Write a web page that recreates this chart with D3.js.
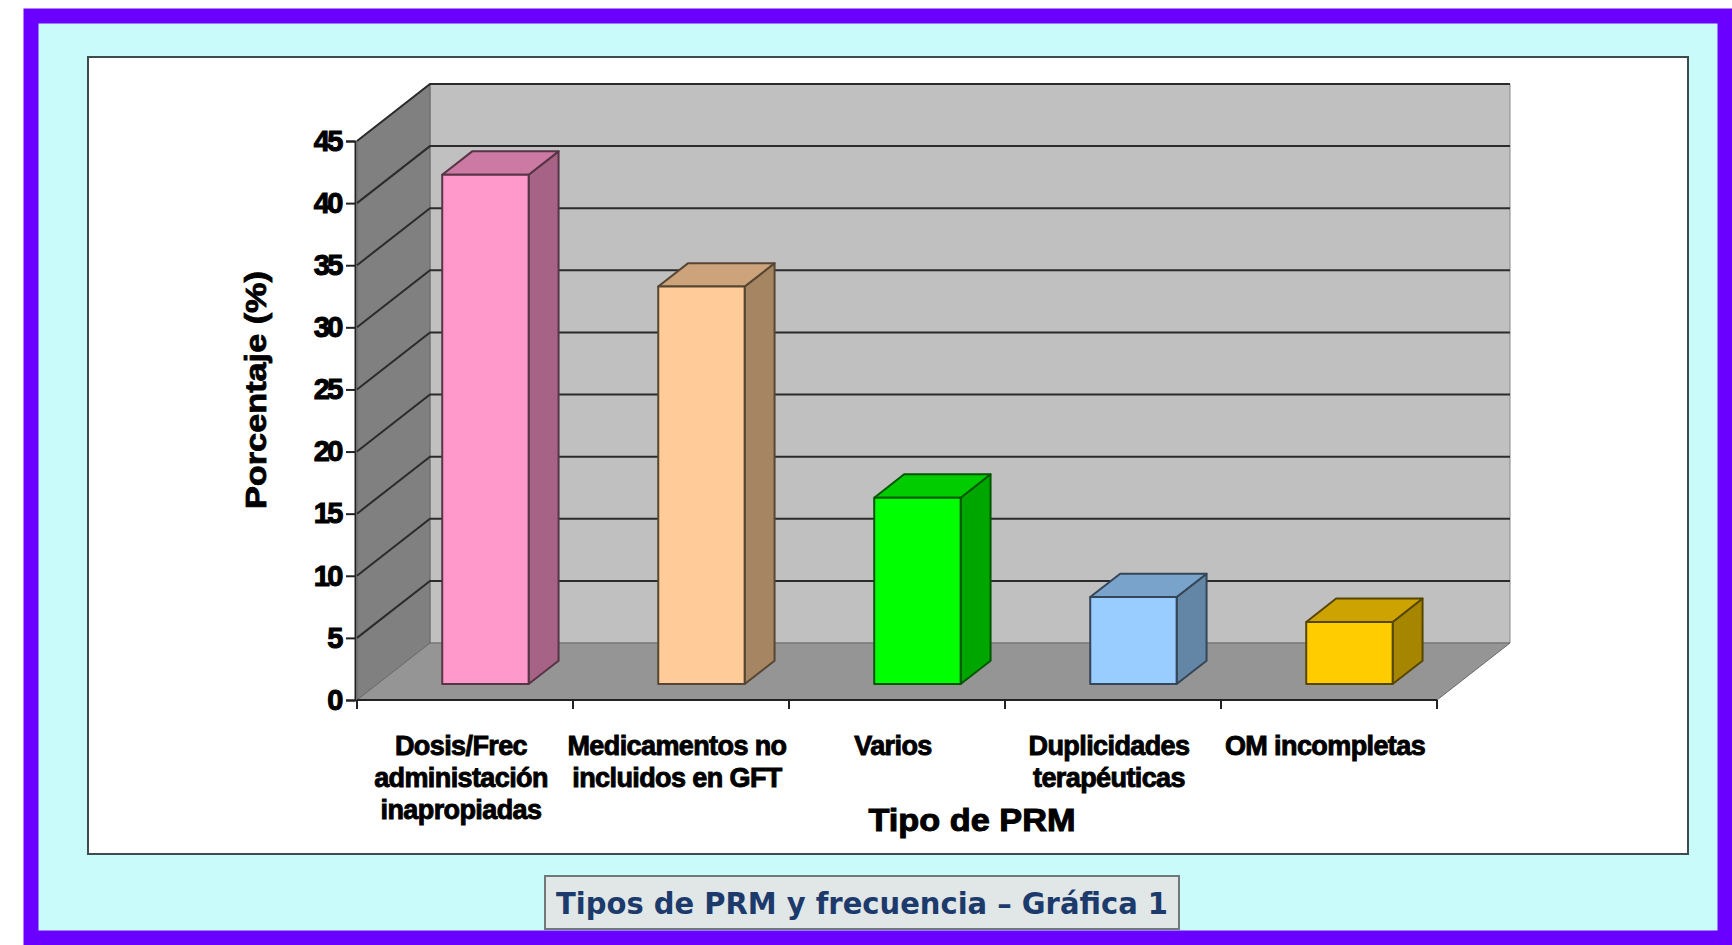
<!DOCTYPE html>
<html>
<head>
<meta charset="utf-8">
<script src="https://cdn.jsdelivr.net/npm/d3@7"></script>
<style>
  body { margin: 0; background: #fff; }
  svg { display: block; }
</style>
</head>
<body>
<div id="chart"></div>
<script>
// chart data
const categories = [
  "Dosis/Frec\nadministación\ninapropiadas",
  "Medicamentos no\nincluidos en GFT",
  "Varios",
  "Duplicidades\nterapéuticas",
  "OM incompletas"
]
const values = [41, 32, 15, 7, 5]
const barColors = ["#FF99CC", "#FFCC99", "#00FF00", "#99CCFF", "#FFCC00"]
const yTicks = [0, 5, 10, 15, 20, 25, 30, 35, 40, 45]
const yTitle = "Porcentaje (%)"
const xTitle = "Tipo de PRM"
const caption = "Tipos de PRM y frecuencia – Gráfica 1"

const width = 1732
const height = 945
const heavyFont = "Liberation Sans, Arial, sans-serif"

const svg = d3
  .select("#chart")
  .append("svg")
  .attr("width", width)
  .attr("height", height)

// frame: purple border, cyan panel, white chart box
svg.append("rect")
  .attr("x", 31).attr("y", 16)
  .attr("width", 1694).attr("height", 922)
  .attr("fill", "#C9FBFB")
  .attr("stroke", "#6A00FF")
  .attr("stroke-width", 15)

svg.append("rect")
  .attr("x", 88).attr("y", 57)
  .attr("width", 1600).attr("height", 797)
  .attr("fill", "#fff")
  .attr("stroke", "#3d4d4d")
  .attr("stroke-width", 2)

// 3d projection: depth d in [0,1] shifts right/up
const depthX = 73
const depthY = -57

const y = d3.scaleLinear().domain([0, 45]).range([700, 141])
const x = d3
  .scaleBand()
  .domain(d3.range(categories.length))
  .range([357, 1437])
  .paddingInner(0.6)
  .paddingOuter(0.3)

const x0 = x.range()[0]
const x1 = x.range()[1]
const P = (px, v, d) => [px + d * depthX, y(v) + d * depthY]
const poly = (pts) => pts.map((p) => p.join(",")).join(" ")

const g = svg.append("g")

// back wall
g.append("polygon")
  .attr("points", poly([P(x0, 0, 1), P(x1, 0, 1), P(x1, 45, 1), P(x0, 45, 1)]))
  .attr("fill", "#C0C0C0")
  .attr("stroke", "#888")

// left wall
g.append("polygon")
  .attr("points", poly([P(x0, 0, 0), P(x0, 0, 1), P(x0, 45, 1), P(x0, 45, 0)]))
  .attr("fill", "#808080")
  .attr("stroke", "#666")

// floor
g.append("polygon")
  .attr("points", poly([P(x0, 0, 0), P(x1, 0, 0), P(x1, 0, 1), P(x0, 0, 1)]))
  .attr("fill", "#959595")
  .attr("stroke", "#6a6a6a")

// gridlines on walls
yTicks.forEach((t) => {
  if (t === 0) return
  g.append("polyline")
    .attr("points", poly([P(x0, t, 0), P(x0, t, 1), P(x1, t, 1)]))
    .attr("fill", "none")
    .attr("stroke", "#2b2b2b")
    .attr("stroke-width", 2)
})

// bars as boxes
const d0 = 0.28
const d1 = 0.69
values.forEach((v, i) => {
  const l = x(i)
  const r = x(i) + x.bandwidth()
  const c = d3.color(barColors[i])
  const edge = d3.color(barColors[i]).darker(3).formatHex()
  const shade = (k) => d3.rgb(c.r * k, c.g * k, c.b * k).formatHex()
  const bar = g.append("g")
    .attr("stroke", edge)
    .attr("stroke-width", 2)
    .attr("stroke-linejoin", "round")
  // right side
  bar.append("polygon")
    .attr("points", poly([P(r, 0, d0), P(r, 0, d1), P(r, v, d1), P(r, v, d0)]))
    .attr("fill", shade(0.65))
  // top
  bar.append("polygon")
    .attr("points", poly([P(l, v, d0), P(r, v, d0), P(r, v, d1), P(l, v, d1)]))
    .attr("fill", shade(0.8))
  // front
  bar.append("polygon")
    .attr("points", poly([P(l, 0, d0), P(r, 0, d0), P(r, v, d0), P(l, v, d0)]))
    .attr("fill", barColors[i])
})

// y axis
const yAxis = d3.axisLeft(y).tickValues(yTicks).tickSize(9).tickPadding(5)
const yg = svg.append("g").attr("transform", `translate(${x0 - 2},0)`).call(yAxis)
yg.select(".domain").attr("stroke", "#222").attr("stroke-width", 2)
yg.selectAll(".tick line").attr("stroke", "#222").attr("stroke-width", 2)
yg.selectAll(".tick text")
  .attr("font-family", heavyFont)
  .attr("font-weight", "bold")
  .attr("font-size", 29)
  .attr("letter-spacing", -2.5)
  .attr("fill", "#000")
  .attr("stroke", "#000")
  .attr("stroke-width", 1)

// x axis line and category ticks
const step = x.step()
const xBounds = d3.range(categories.length + 1).map((k) => x0 + k * step)
svg.append("line")
  .attr("x1", x0).attr("x2", x1)
  .attr("y1", y(0)).attr("y2", y(0))
  .attr("stroke", "#222").attr("stroke-width", 2)
svg.selectAll("line.xtick")
  .data(xBounds)
  .join("line")
  .attr("class", "xtick")
  .attr("x1", (d) => d).attr("x2", (d) => d)
  .attr("y1", y(0)).attr("y2", y(0) + 9)
  .attr("stroke", "#222").attr("stroke-width", 2)

// category labels
const labels = svg.append("g")
  .attr("font-family", heavyFont)
  .attr("font-weight", "bold")
  .attr("font-size", 27)
  .attr("letter-spacing", -0.6)
  .attr("stroke", "#000")
  .attr("stroke-width", 0.9)
  .attr("text-anchor", "middle")
categories.forEach((name, i) => {
  const cx = x0 + (i + 0.5) * step - 4
  const t = labels.append("text").attr("x", cx).attr("y", 755)
  name.split("\n").forEach((line, k) => {
    t.append("tspan")
      .attr("x", cx)
      .attr("dy", k === 0 ? 0 : 32)
      .text(line)
  })
})

// axis titles
svg.append("text")
  .attr("x", 972).attr("y", 831)
  .attr("text-anchor", "middle")
  .attr("font-family", heavyFont)
  .attr("font-weight", "bold")
  .attr("font-size", 32)
  .attr("stroke", "#000")
  .attr("stroke-width", 1)
  .attr("textLength", 207)
  .attr("lengthAdjust", "spacingAndGlyphs")
  .text(xTitle)

svg.append("text")
  .attr("transform", "translate(266,390) rotate(-90)")
  .attr("text-anchor", "middle")
  .attr("font-family", heavyFont)
  .attr("font-weight", "bold")
  .attr("font-size", 29)
  .attr("stroke", "#000")
  .attr("stroke-width", 0.8)
  .attr("textLength", 238)
  .attr("lengthAdjust", "spacingAndGlyphs")
  .text(yTitle)

// caption box
svg.append("rect")
  .attr("x", 545).attr("y", 876)
  .attr("width", 634).attr("height", 53)
  .attr("fill", "#E1E6E6")
  .attr("stroke", "#707878")
  .attr("stroke-width", 2)

svg.append("text")
  .attr("x", 862).attr("y", 914)
  .attr("text-anchor", "middle")
  .attr("font-family", "DejaVu Sans Condensed, DejaVu Sans, sans-serif")
  .attr("font-weight", "bold")
  .attr("font-size", 30)
  .attr("fill", "#1C3A6B")
  .attr("textLength", 612)
  .attr("lengthAdjust", "spacingAndGlyphs")
  .text(caption)
</script>
</body>
</html>
